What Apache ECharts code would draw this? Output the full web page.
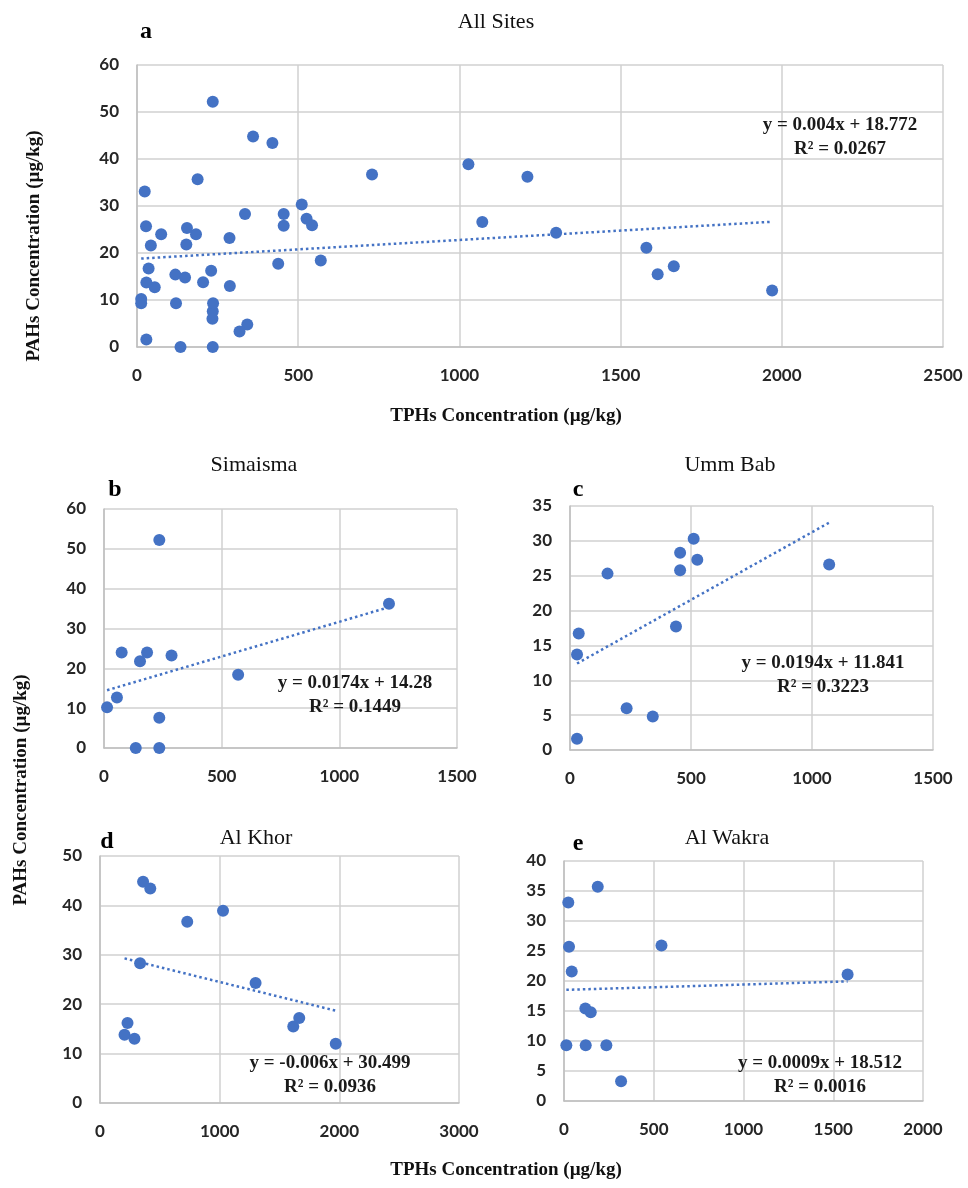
<!DOCTYPE html>
<html>
<head>
<meta charset="utf-8">
<script src="https://cdn.jsdelivr.net/npm/echarts@6/dist/echarts.min.js"></script>
<style>
  html, body { margin: 0; padding: 0; background: #fff; }
  #chart { width: 968px; height: 1188px; }
</style>
</head>
<body>
<div id="chart"></div>
<script>
// TPH (x) and PAH (y) values per site
const simaismaX = [235, 1211, 75, 183, 153, 287, 570, 55, 13, 235, 135, 235]
const simaismaY = [52.2, 36.2, 24.0, 24.0, 21.8, 23.2, 18.4, 12.7, 10.2, 7.6, 0, 0]

const ummBabX = [511, 455, 526, 455, 155, 1071, 438, 36, 29, 234, 342, 29]
const ummBabY = [30.3, 28.3, 27.3, 25.8, 25.3, 26.6, 17.7, 16.7, 13.7, 6.0, 4.8, 1.6]

const alKhorX = [360, 420, 729, 1028, 335, 1300, 230, 205, 288, 1615, 1665, 1970]
const alKhorY = [44.8, 43.4, 36.7, 38.9, 28.3, 24.3, 16.2, 13.8, 13.0, 15.5, 17.2, 12.0]

const alWakraX = [188, 24, 28, 543, 43, 1580, 119, 149, 13, 121, 236, 318]
const alWakraY = [35.7, 33.1, 25.7, 25.9, 21.6, 21.1, 15.4, 14.8, 9.3, 9.3, 9.3, 3.3]

// linear trend lines as printed on each panel: [slope, intercept]
const trendAll      = [0.004, 18.772]
const trendSimaisma = [0.0174, 14.28]
const trendUmmBab   = [0.0194, 11.841]
const trendAlKhor   = [-0.006, 30.499]
const trendAlWakra  = [0.0009, 18.512]

const panelTitles = ['All Sites', 'Simaisma', 'Umm Bab', 'Al Khor', 'Al Wakra']
const panelLetters = ['a', 'b', 'c', 'd', 'e']
const equations = [
  ['y = 0.004x + 18.772', 'R² = 0.0267'],
  ['y = 0.0174x + 14.28', 'R² = 0.1449'],
  ['y = 0.0194x + 11.841', 'R² = 0.3223'],
  ['y = -0.006x + 30.499', 'R² = 0.0936'],
  ['y = 0.0009x + 18.512', 'R² = 0.0016']
]
// axis ranges [xMax, xStep, yMax, yStep]
const axisRanges = [
  [2500, 500, 60, 10],
  [1500, 500, 60, 10],
  [1500, 500, 35, 5],
  [3000, 1000, 50, 10],
  [2000, 500, 40, 5]
]

const allX = [].concat(simaismaX, ummBabX, alKhorX, alWakraX)
const allY = [].concat(simaismaY, ummBabY, alKhorY, alWakraY)

const sets = [
  [allX, allY, trendAll],
  [simaismaX, simaismaY, trendSimaisma],
  [ummBabX, ummBabY, trendUmmBab],
  [alKhorX, alKhorY, trendAlKhor],
  [alWakraX, alWakraY, trendAlWakra]
]

// layout of each plot area
const grids = [
  { left: 137, top: 65,  width: 806, height: 282 },
  { left: 104, top: 509, width: 353, height: 239 },
  { left: 570, top: 506, width: 363, height: 244 },
  { left: 100, top: 856, width: 359, height: 247 },
  { left: 564, top: 861, width: 359, height: 240 }
]
const titlePos  = [[496, 22], [254, 465], [730, 465], [256, 838], [727, 838]]
const letterPos = [[146, 32], [115, 490], [578, 490], [107, 842], [578, 844]]
// centre of first equation line
const eqPos     = [[840, 125], [355, 683], [823, 663], [330, 1063], [820, 1063]]

const blue = '#4472C4'
const serif = '"Liberation Serif", "Times New Roman", serif'
const tickFont = { fontFamily: 'Lato, "Open Sans", sans-serif', fontSize: 17, fontWeight: 'bold', color: '#262626' }
const gridColor = '#d0d0d0'

const chart = echarts.init(document.getElementById('chart'))

const xAxis = [], yAxis = [], series = [], graphic = []
const plain = v => String(v)

grids.forEach((g, i) => {
  const r = axisRanges[i]
  xAxis.push({
    type: 'value', gridIndex: i, min: 0, max: r[0], interval: r[1],
    axisLine: { show: true, lineStyle: { color: '#bfbfbf', width: 1.5 } },
    axisTick: { show: false },
    splitLine: { show: true, lineStyle: { color: gridColor, width: 1.5 } },
    axisLabel: Object.assign({ margin: 20, formatter: plain }, tickFont)
  })
  yAxis.push({
    type: 'value', gridIndex: i, min: 0, max: r[2], interval: r[3],
    axisLine: { show: true, lineStyle: { color: '#bfbfbf', width: 1.5 } },
    axisTick: { show: false },
    splitLine: { show: true, lineStyle: { color: gridColor, width: 1.5 } },
    axisLabel: Object.assign({ margin: 18, formatter: plain }, tickFont)
  })

  const xs = sets[i][0], ys = sets[i][1], tr = sets[i][2]
  series.push({
    type: 'scatter', xAxisIndex: i, yAxisIndex: i,
    symbolSize: 12, itemStyle: { color: blue, opacity: 1 },
    data: xs.map((x, k) => [x, ys[k]]),
    z: 3
  })
  const x0 = Math.min.apply(null, xs), x1 = Math.max.apply(null, xs)
  series.push({
    type: 'line', xAxisIndex: i, yAxisIndex: i,
    symbol: 'none', silent: true,
    lineStyle: { color: blue, width: 2.5, type: [2.5, 3] },
    data: [[x0, tr[0] * x0 + tr[1]], [x1, tr[0] * x1 + tr[1]]],
    z: 2
  })

  graphic.push({
    type: 'text', x: titlePos[i][0], y: titlePos[i][1],
    style: { text: panelTitles[i], font: '22px ' + serif, fill: '#111',
             align: 'center', verticalAlign: 'middle', textAlign: 'center', textVerticalAlign: 'middle' }
  })
  graphic.push({
    type: 'text', x: letterPos[i][0], y: letterPos[i][1],
    style: { text: panelLetters[i], font: 'bold 24px ' + serif, fill: '#000',
             align: 'center', verticalAlign: 'middle', textAlign: 'center', textVerticalAlign: 'middle' }
  })
  graphic.push({
    type: 'text', x: eqPos[i][0], y: eqPos[i][1] - 12, z: 10,
    style: { text: equations[i].join('\n'), font: 'bold 19px ' + serif, fill: '#1a1a1a', lineHeight: 24,
             align: 'center', verticalAlign: 'top', textAlign: 'center', textVerticalAlign: 'top' }
  })
})

// axis titles
const axisTitleStyle = (text) => ({
  text: text, font: 'bold 19px ' + serif, fill: '#111',
  align: 'center', verticalAlign: 'middle', textAlign: 'center', textVerticalAlign: 'middle'
})
graphic.push({ type: 'text', x: 34, y: 246, rotation: Math.PI / 2, style: axisTitleStyle('PAHs Concentration (µg/kg)') })
graphic.push({ type: 'text', x: 506, y: 416, style: axisTitleStyle('TPHs Concentration (µg/kg)') })
graphic.push({ type: 'text', x: 21, y: 790, rotation: Math.PI / 2, style: axisTitleStyle('PAHs Concentration (µg/kg)') })
graphic.push({ type: 'text', x: 506, y: 1170, style: axisTitleStyle('TPHs Concentration (µg/kg)') })

chart.setOption({
  animation: false,
  backgroundColor: '#fff',
  grid: grids.map(g => Object.assign({ containLabel: false }, g)),
  xAxis: xAxis,
  yAxis: yAxis,
  series: series,
  graphic: graphic
})
</script>
</body>
</html>
